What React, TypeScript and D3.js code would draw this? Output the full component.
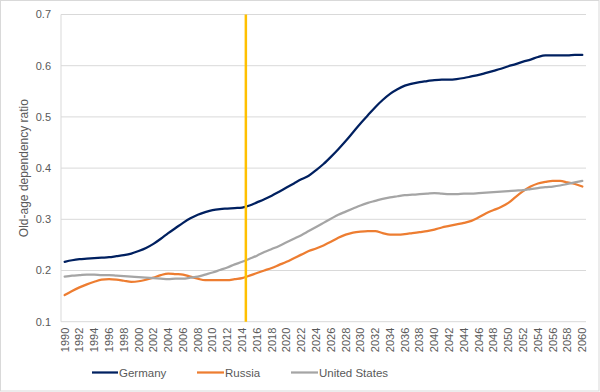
import React from "react";
import * as d3 from "d3";

const years: number[] = d3.range(1990, 2061);
const yTicks: number[] = [0.1, 0.2, 0.3, 0.4, 0.5, 0.6, 0.7];
const markerYear = 2015;

const germany: number[] = [
  0.217, 0.220, 0.222, 0.223, 0.224, 0.225, 0.226, 0.228, 0.230, 0.233,
  0.238, 0.244, 0.252, 0.262, 0.273, 0.283, 0.293, 0.302, 0.309, 0.314,
  0.318, 0.320, 0.321, 0.322, 0.323, 0.327, 0.333, 0.339, 0.346, 0.354,
  0.362, 0.370, 0.378, 0.385, 0.396, 0.408, 0.422, 0.437, 0.453, 0.470,
  0.487, 0.503, 0.519, 0.533, 0.545, 0.554, 0.561, 0.565, 0.568, 0.570,
  0.572, 0.573, 0.573, 0.574, 0.576, 0.579, 0.582, 0.586, 0.590, 0.594,
  0.599, 0.603, 0.608, 0.612, 0.617, 0.620, 0.620, 0.620, 0.620, 0.621,
  0.621,
];
const russia: number[] = [
  0.152, 0.160, 0.167, 0.173, 0.178, 0.182, 0.183, 0.182, 0.180, 0.178,
  0.179, 0.182, 0.186, 0.191, 0.194, 0.193, 0.192, 0.188, 0.184, 0.181,
  0.181, 0.181, 0.181, 0.183, 0.185, 0.190, 0.195, 0.200, 0.205, 0.211,
  0.217, 0.224, 0.231, 0.238, 0.243, 0.249, 0.256, 0.264, 0.270, 0.274,
  0.276, 0.277, 0.277, 0.273, 0.270, 0.270, 0.271, 0.273, 0.275, 0.277,
  0.280, 0.284, 0.287, 0.290, 0.293, 0.297, 0.304, 0.312, 0.318, 0.324,
  0.332, 0.344, 0.355, 0.364, 0.370, 0.373, 0.375, 0.375, 0.372, 0.369,
  0.364,
];
const unitedStates: number[] = [
  0.188, 0.190, 0.191, 0.192, 0.192, 0.191, 0.191, 0.190, 0.189, 0.188,
  0.187, 0.186, 0.185, 0.184, 0.183, 0.184, 0.184, 0.186, 0.188, 0.192,
  0.196, 0.201, 0.206, 0.212, 0.217, 0.223, 0.229, 0.236, 0.242, 0.248,
  0.255, 0.262, 0.269, 0.277, 0.285, 0.293, 0.301, 0.309, 0.315, 0.321,
  0.327, 0.332, 0.336, 0.340, 0.343, 0.345, 0.347, 0.348, 0.349, 0.350,
  0.351, 0.350, 0.349, 0.349, 0.350, 0.350, 0.351, 0.352, 0.353, 0.354,
  0.355, 0.356, 0.357, 0.359, 0.361, 0.363, 0.364, 0.366, 0.369, 0.372,
  0.375,
];

const seriesNames = ["Germany", "Russia", "United States"];
const seriesColors = ["#002060", "#ED7D31", "#A5A5A5"];
const seriesData = [germany, russia, unitedStates];

const W = 600;
const H = 392;
const left = 61;
const right = 586;
const top = 14.5;
const bottom = 321.7;
const FONT = "'Liberation Sans', Arial, sans-serif";

export default function App() {
  const x = d3
    .scaleBand<number>()
    .domain(years)
    .range([left, right])
    .paddingInner(0)
    .paddingOuter(0);
  const cx = (yr: number) => (x(yr) as number) + x.bandwidth() / 2;
  const y = d3.scaleLinear().domain([0.1, 0.7]).range([bottom, top]);

  const line = (vals: number[]) =>
    d3
      .line<number>()
      .x((_, i) => cx(years[i]))
      .y((v) => y(v))
      .curve(d3.curveMonotoneX)(vals) as string;

  const markerX = x(markerYear) as number;

  const legendItems = [
    { lx: 92, tx: 119 },
    { lx: 197, tx: 225 },
    { lx: 291, tx: 319 },
  ];

  return (
    <svg
      width={W}
      height={H}
      style={{ position: "absolute", left: 0, top: 0, background: "#fff" }}
      fontFamily={FONT}
    >
      <rect x={0.5} y={0.5} width={W - 1.5} height={H - 1.5} fill="#fff" stroke="#D9D9D9" />
      {yTicks.map((t) => (
        <g key={t}>
          {t > 0.1 && (
            <line x1={left} x2={right} y1={y(t)} y2={y(t)} stroke="#D9D9D9" strokeWidth={1} />
          )}
          <text x={51} y={y(t)} dy="0.35em" textAnchor="end" fontSize={11} fill="#595959">
            {t.toFixed(1)}
          </text>
        </g>
      ))}
      <line x1={left} x2={left} y1={top} y2={bottom} stroke="#D9D9D9" />
      <line x1={left} x2={right} y1={bottom} y2={bottom} stroke="#D9D9D9" />
      <text
        transform={`translate(24,${(top + bottom) / 2}) rotate(-90)`}
        textAnchor="middle"
        dy="0.35em"
        fontSize={12}
        fill="#595959"
      >
        Old-age dependency ratio
      </text>
      {years
        .filter((yr) => (yr - 1990) % 2 === 0)
        .map((yr) => (
          <text
            key={yr}
            transform={`translate(${cx(yr)},${bottom + 6}) rotate(-90)`}
            textAnchor="end"
            dy="0.35em"
            fontSize={11}
            fill="#595959"
          >
            {yr}
          </text>
        ))}
      {seriesData.map((vals, i) => (
        <path
          key={seriesNames[i]}
          d={line(vals)}
          fill="none"
          stroke={seriesColors[i]}
          strokeWidth={2.25}
          strokeLinejoin="round"
          strokeLinecap="round"
        />
      ))}
      <line x1={markerX} x2={markerX} y1={top} y2={bottom} stroke="#FFC000" strokeWidth={2.5} />
      {seriesNames.map((name, i) => (
        <g key={name}>
          <line
            x1={legendItems[i].lx}
            x2={legendItems[i].tx - 1}
            y1={372.5}
            y2={372.5}
            stroke={seriesColors[i]}
            strokeWidth={2.25}
          />
          <text x={legendItems[i].tx} y={372.5} dy="0.35em" fontSize={11.5} fill="#595959">
            {name}
          </text>
        </g>
      ))}
    </svg>
  );
}
